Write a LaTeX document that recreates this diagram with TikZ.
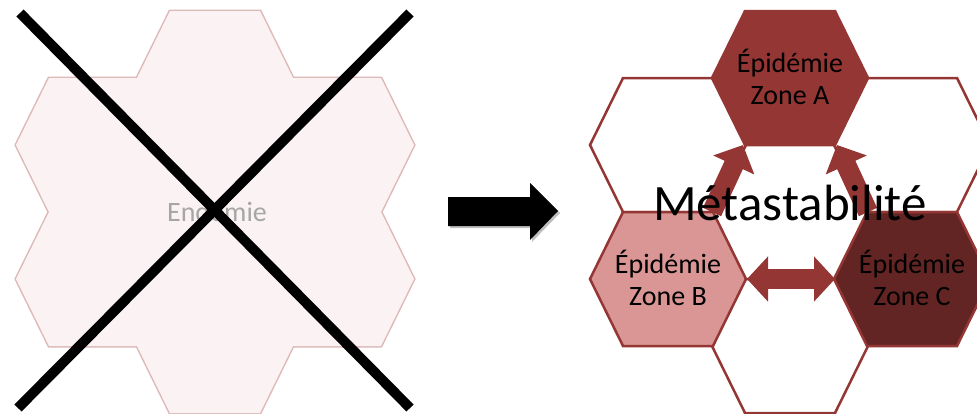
\documentclass[tikz,border=0pt]{standalone}
\usepackage{fontspec}
\setmainfont{Carlito}
\usetikzlibrary{arrows.meta}
\definecolor{hexred}{HTML}{943634}
\definecolor{hexpink}{HTML}{D99694}
\definecolor{hexdark}{HTML}{632523}
\definecolor{ltfill}{HTML}{FBF3F3}
\definecolor{ltstroke}{HTML}{DDB9B8}
\definecolor{ghost}{HTML}{A6A6A6}
\newcommand\hexat[3]{\path[#3] (#1-78,#2) -- (#1-45,#2-67) -- (#1+45,#2-67) -- (#1+78,#2) -- (#1+45,#2+67) -- (#1-45,#2+67) -- cycle;}
\tikzset{
  zonetext/.style={font=\fontsize{28}{32}\selectfont, align=center, inner sep=0pt, text=black},
  redarrow/.style={line width=20pt, draw=hexred, -{Triangle[width=44pt,length=22pt]}},
  redarrowboth/.style={line width=20pt, draw=hexred, {Triangle[width=44pt,length=21pt]}-{Triangle[width=44pt,length=21pt]}},
  rightstroke/.style={draw=hexred, line width=2.5pt, line join=miter},
  crossline/.style={line width=10pt, draw=black}
}
\begin{document}
\begin{tikzpicture}[x=1pt,y=-1pt]
\useasboundingbox (0,0) rectangle (977,413);
\clip (0,0) rectangle (977,413);
% left cluster (Endemie)
\foreach \cx/\cy in {215/78, 94/145, 336/145, 215/212, 94/279, 336/279, 215/346}{
  \hexat{\cx}{\cy}{draw=ltstroke, line width=3pt, line join=miter}
}
\foreach \cx/\cy in {215/78, 94/145, 336/145, 215/212, 94/279, 336/279, 215/346}{
  \hexat{\cx}{\cy}{fill=ltfill}
}
\node[font=\fontsize{28}{34}\selectfont, text=ghost, anchor=base, inner sep=0pt] (endemie) at (217,221) {Endémie};
% cross
\draw[crossline] (20,13) -- (410,408);
\draw[crossline] (410,13) -- (18,408);
% big black arrow
\fill[black!25] (450,199) -- (532,199) -- (532,185) -- (560,213) -- (532,242) -- (532,228) -- (450,228) -- cycle;
\fill[black] (448,197) -- (530,197) -- (530,183) -- (558,211) -- (530,240) -- (530,226) -- (448,226) -- cycle;
% right cluster: white hexagons
\hexat{668}{145}{fill=white, rightstroke}
\hexat{912}{145}{fill=white, rightstroke}
\hexat{790}{346}{fill=white, rightstroke}
% arrows
\coordinate (ltail) at (712,212);
\coordinate (lhead) at (743,145);
\coordinate (rtail) at (868,212);
\coordinate (rhead) at (837,145);
\coordinate (bend) at (747,279);
\coordinate (cend) at (835,279);
\draw[redarrow] (ltail) -- (lhead);
\draw[redarrow] (rtail) -- (rhead);
\draw[redarrowboth] (bend) -- (cend);
% coloured hexagons
\hexat{790}{78}{fill=hexred, rightstroke}
\hexat{668}{279}{fill=hexpink, rightstroke}
\hexat{912}{279}{fill=hexdark, rightstroke}
% texts
\node[zonetext] (za) at (790,77) {Épidémie\\Zone A};
\node[zonetext] (zb) at (668,278) {Épidémie\\Zone B};
\node[zonetext] (zc) at (912,278) {Épidémie\\Zone C};
\node[font=\fontsize{51}{60}\selectfont, anchor=base, inner sep=0pt] (meta) at (790,220) {Métastabilité};
\end{tikzpicture}
\end{document}
